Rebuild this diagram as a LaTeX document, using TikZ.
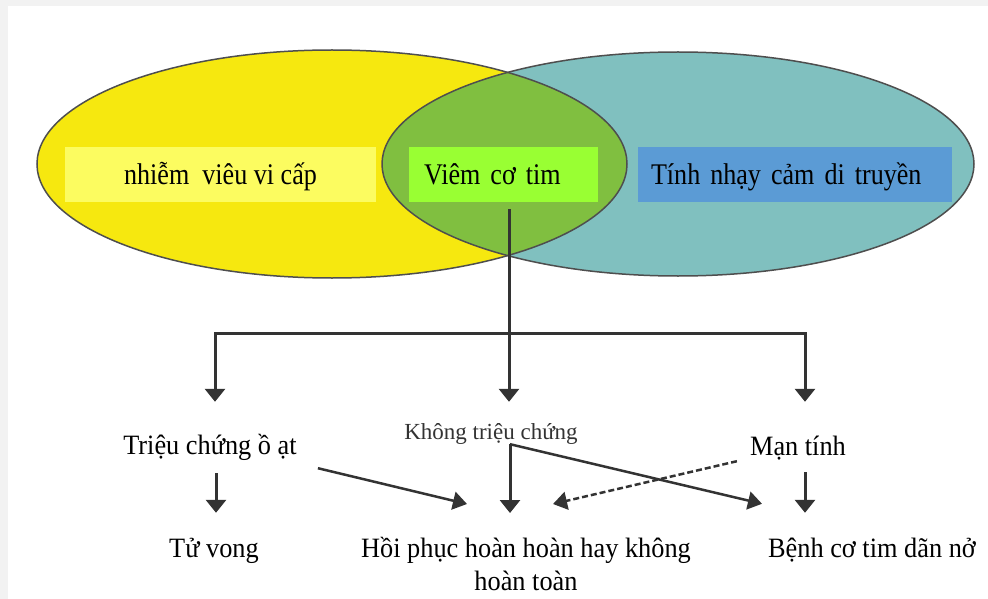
\documentclass[tikz,border=0pt]{standalone}
\usepackage{fontspec}
\setmainfont{Liberation Serif}
\newfontfamily\topfont[FakeStretch=0.87]{Liberation Serif}
\newfontfamily\botfont[FakeStretch=0.94]{Liberation Serif}
\usetikzlibrary{arrows.meta,calc}
\definecolor{yel}{HTML}{F6E80F}
\definecolor{tealc}{HTML}{80C0BF}
\definecolor{grn}{HTML}{80BF40}
\definecolor{lyel}{HTML}{FCFC60}
\definecolor{limec}{HTML}{99FF33}
\definecolor{bluc}{HTML}{5B9BD5}
\definecolor{edgec}{HTML}{4E4E4E}
\definecolor{ink}{HTML}{333333}
\definecolor{framec}{HTML}{F2F2F2}
\begin{document}
\begin{tikzpicture}[x=1pt,y=-1pt,
  topbox/.style={inner xsep=0pt, inner ysep=0pt, text height=37pt, text depth=18pt,
    minimum height=55pt, font=\topfont\fontsize{30}{36}\selectfont},
  lbl/.style={inner sep=0pt, text height=22pt, text depth=7pt, anchor=base,
    font=\botfont\fontsize{28}{33}\selectfont},
  arr/.style={draw=ink, line width=3pt, -{Triangle[width=20pt,length=13pt]}},
  sarr/.style={draw=ink, line width=2.5pt, -{Triangle[width=18pt,length=14pt]}},
  darr/.style={sarr, dash pattern=on 6pt off 3pt},
  venn/.style={draw=edgec, line width=1.5pt}
]
\useasboundingbox (0,0) rectangle (988,599);
\fill[framec] (0,0) rectangle (988,599);
\fill[white] (8,6) rectangle (988,599);

% Venn
\fill[yel] (332,164) ellipse [x radius=295, y radius=114];
\fill[tealc] (678,164) ellipse [x radius=296, y radius=112];
\begin{scope}
  \clip (332,164) ellipse [x radius=295, y radius=114];
  \fill[grn] (678,164) ellipse [x radius=296, y radius=112];
\end{scope}
\draw[venn] (332,164) ellipse [x radius=295, y radius=114];
\draw[venn] (678,164) ellipse [x radius=296, y radius=112];

% boxes
\node[topbox, fill=lyel, minimum width=311pt] (inf) at (220.5,174.5) {nhiễm\ \ viêu vi cấp};
\node[topbox, fill=limec, minimum width=189pt, text width=159pt, align=left] (viem) at (503.5,174.5) {Viêm cơ tim};
\node[topbox, fill=bluc, minimum width=314pt, text width=288pt, align=left] (gen) at (795,174.5) {Tính nhạy cảm di truyền};

% labels
\node[lbl] (tc) at (210,454) {Triệu chứng ồ ạt};
\node[lbl, font=\fontsize{23}{27}\selectfont, text=ink] (kt) at (491,439) {Không triệu chứng};
\node[lbl] (mt) at (798,455) {Mạn tính};
\node[lbl] (tv) at (214,557) {Tử vong};
\node[inner sep=0pt, anchor=base, align=center, font=\botfont\fontsize{28}{33}\selectfont] (hp) at (526,590) {Hồi phục hoàn hoàn hay không\\hoàn toàn};
\node[lbl] (bb) at (872,557) {Bệnh cơ tim dãn nở};

% connectors
\coordinate (jn) at (509,333);
\draw[arr] ($(viem.south)+(5.5,7)$) -- ($(kt.north)+(18,-15)$);
\draw[arr] (jn) -| ($(tc.north)+(5,-30)$);
\draw[arr] (jn) -| ($(mt.north)+(7,-31)$);
\draw[arr] ($(tc.south)+(6,12)$) -- ($(tv.north)+(2,-22)$);
\draw[arr] ($(kt.south)+(19,-2)$) -- ($(hp.base)+(-16,-77)$);
\draw[sarr] ($(kt.south)+(19,-2)$) -- ($(bb.north)+(-110,-31)$);
\draw[sarr] ($(tc.south east)+(21,7)$) -- ($(hp.base)+(-59,-86)$);
\draw[darr] ($(mt.south west)+(-13,-1)$) -- ($(hp.base)+(27,-86)$);
\draw[arr] ($(mt.south)+(7,10)$) -- ($(bb.north)+(-67,-22)$);
\end{tikzpicture}
\end{document}
